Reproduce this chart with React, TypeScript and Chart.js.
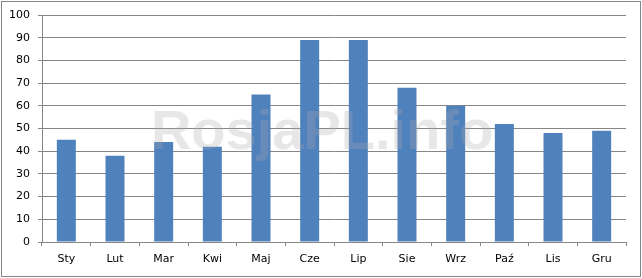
import React, { useEffect, useRef } from "react";
import { Chart, registerables } from "chart.js";

Chart.register(...registerables);

const months = ["Sty", "Lut", "Mar", "Kwi", "Maj", "Cze", "Lip", "Sie", "Wrz", "Paź", "Lis", "Gru"];
const values = [45, 38, 44, 42, 65, 89, 89, 68, 60, 52, 48, 49];
const yMin = 0;
const yMax = 100;
const yStep = 10;
const watermark = "RosjaPL.info";

const framePlugin = {
  id: "frame",
  beforeDraw(chart: any) {
    const { ctx, width, height } = chart;
    ctx.save();
    ctx.fillStyle = "#ffffff";
    ctx.fillRect(0, 0, width, height);
    ctx.strokeStyle = "#868686";
    ctx.lineWidth = 1;
    ctx.strokeRect(1.5, 1.5, width - 3, height - 3);
    ctx.restore();
  },
  afterDatasetsDraw(chart: any) {
    const { ctx, chartArea } = chart;
    ctx.save();
    ctx.font = "bold 56px Arial, 'Liberation Sans', sans-serif";
    ctx.fillStyle = "rgba(170,170,170,0.28)";
    ctx.textAlign = "center";
    ctx.textBaseline = "middle";
    const cx = (chartArea.left + chartArea.right) / 2 - 12;
    ctx.fillText(watermark, cx, 134);
    ctx.restore();
  },
};

export default function App() {
  const ref = useRef<HTMLCanvasElement>(null);
  useEffect(() => {
    document.body.style.margin = "0";
    const chart = new Chart(ref.current!, {
      type: "bar",
      data: {
        labels: months,
        datasets: [
          {
            data: values,
            backgroundColor: "#4F81BD",
            borderWidth: 0,
            categoryPercentage: 1,
            barPercentage: 0.39,
          },
        ],
      },
      options: {
        animation: false,
        responsive: false,
        events: [],
        layout: { padding: { left: 0, right: 16, top: 15, bottom: 0 } },
        plugins: { legend: { display: false }, tooltip: { enabled: false } },
        scales: {
          x: {
            offset: true,
            grid: {
              offset: true,
              drawOnChartArea: false,
              drawTicks: true,
              tickLength: 4,
              color: "#868686",
            },
            border: { color: "#868686" },
            ticks: {
              color: "#000",
              padding: 7,
              font: { family: "Tahoma, 'DejaVu Sans', sans-serif", size: 11 },
            },
            afterFit(scale: any) {
              scale.height = 36;
            },
          },
          y: {
            min: yMin,
            max: yMax,
            ticks: {
              stepSize: yStep,
              color: "#000",
              padding: 8,
              font: { family: "Tahoma, 'DejaVu Sans', sans-serif", size: 11 },
            },
            grid: { color: "#868686", tickLength: 4 },
            border: { color: "#868686" },
            afterFit(scale: any) {
              scale.width = 42;
            },
          },
        },
      },
      plugins: [framePlugin],
    });
    return () => chart.destroy();
  }, []);
  return <canvas ref={ref} width={642} height={278} style={{ display: "block" }} />;
}
